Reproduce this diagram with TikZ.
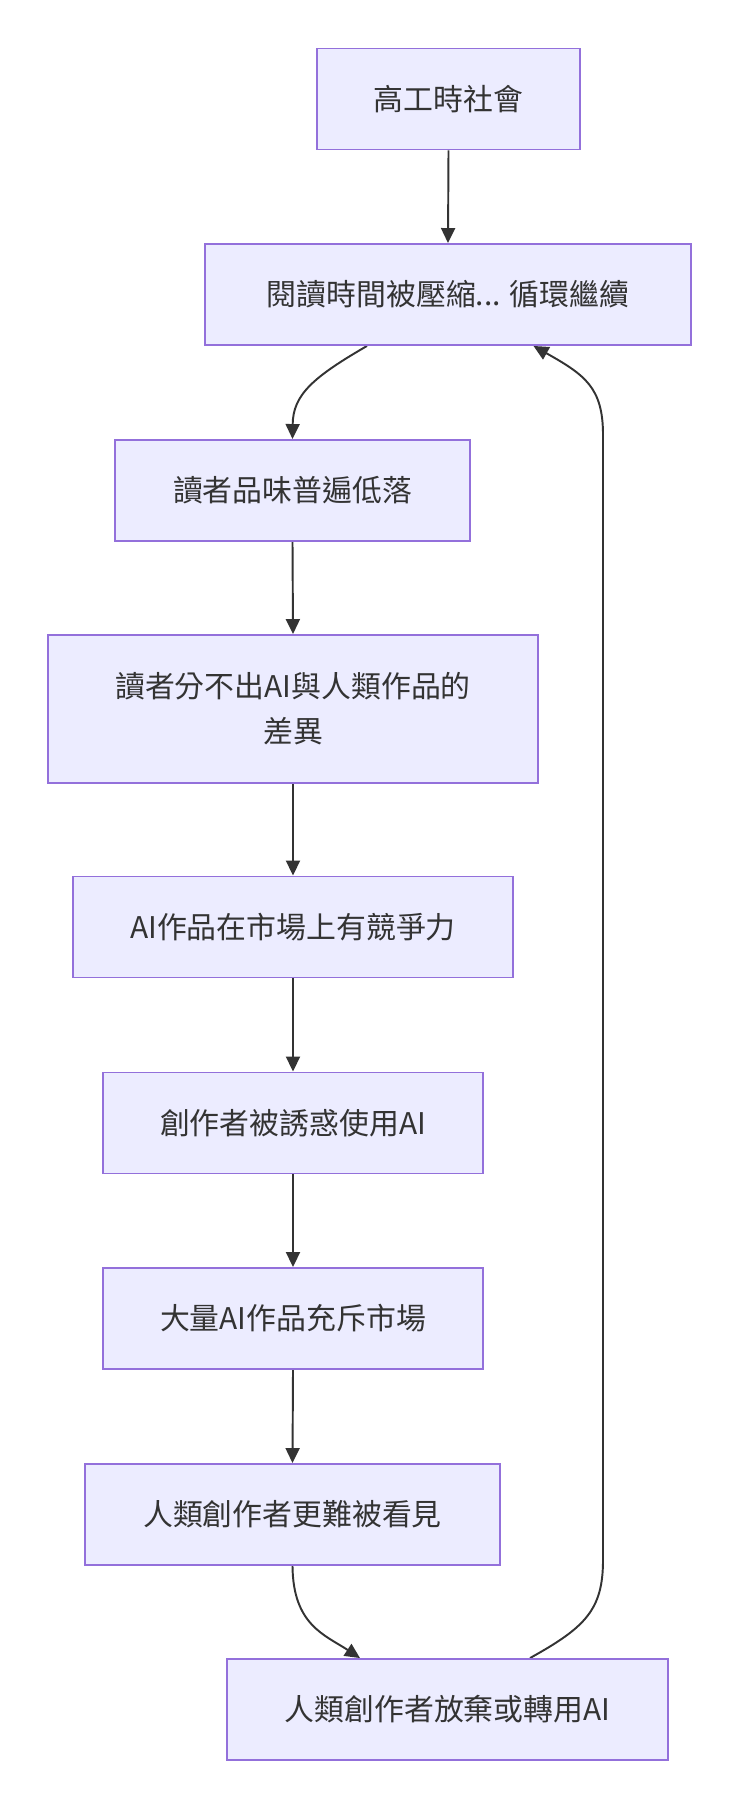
\documentclass[tikz,border=0pt]{standalone}
\usepackage{fontspec}
\setmainfont{Noto Sans CJK TC}
\usetikzlibrary{arrows.meta}
\usetikzlibrary{calc}
\pgfdeclarelayer{edgelayer}
\pgfdeclarelayer{nodelayer}
\pgfsetlayers{edgelayer,nodelayer,main}
\definecolor{boxfill}{HTML}{ECECFF}
\definecolor{boxline}{HTML}{9370DB}
\definecolor{edgeline}{HTML}{333333}
\tikzstyle{none}=[inner sep=0pt]
\tikzstyle{box}=[rectangle, fill=boxfill, draw=boxline, line width=1.1pt, minimum height=2.02cm, inner sep=0pt, align=center, text=edgeline, font=\fontsize{17}{25.6}\selectfont]
\tikzstyle{flow}=[draw=edgeline, line width=1.1pt, -{Triangle[length=0.3cm, width=0.28cm]}]

\begin{document}
\begin{tikzpicture}
	\useasboundingbox (0, 0) rectangle (14.8, -36.18);
	\begin{pgfonlayer}{nodelayer}
		\node [style=box, minimum width=5.26cm] (0) at (8.97, -1.98) {高工時社會};
		\node [style=box, minimum width=9.72cm] (1) at (8.96, -5.89) {閱讀時間被壓縮... 循環繼續};
		\node [style=box, minimum width=7.1cm] (2) at (5.85, -9.81) {讀者品味普遍低落};
		\node [style=box, minimum width=9.8cm, minimum height=2.96cm] (3) at (5.86, -14.18) {讀者分不出AI與人類作品的\\差異};
		\node [style=box, minimum width=8.8cm] (4) at (5.86, -18.54) {AI作品在市場上有競爭力};
		\node [style=box, minimum width=7.6cm] (5) at (5.86, -22.46) {創作者被誘惑使用AI};
		\node [style=box, minimum width=7.6cm] (6) at (5.86, -26.37) {大量AI作品充斥市場};
		\node [style=box, minimum width=8.3cm] (7) at (5.85, -30.29) {人類創作者更難被看見};
		\node [style=box, minimum width=8.82cm] (8) at (8.95, -34.19) {人類創作者放棄或轉用AI};
	\end{pgfonlayer}
	\begin{pgfonlayer}{edgelayer}
		\fill [white] (0, 0) rectangle (14.8, -36.18);
		\draw [style=flow] (0.south) -- (1.north);
		\draw [style=flow] ($(1.south)+(-1.62, 0)$) .. controls (6.25, -7.55) and (5.86, -7.9) .. (2.north);
		\draw [style=flow] (2.south) -- (3.north);
		\draw [style=flow] (3.south) -- (4.north);
		\draw [style=flow] (4.south) -- (5.north);
		\draw [style=flow] (5.south) -- (6.north);
		\draw [style=flow] (6.south) -- (7.north);
		\draw [style=flow] (7.south) .. controls (5.86, -32.5) and (6.5, -32.7) .. ($(8.north)+(-1.75, 0)$);
		\draw [style=flow] ($(8.north)+(1.65, 0)$) .. controls (11.7, -32.55) and (12.06, -32.2) .. (12.06, -31.2) -- (12.06, -8.7) .. controls (12.06, -7.75) and (11.7, -7.5) .. ($(1.south)+(1.71, 0)$);
	\end{pgfonlayer}
\end{tikzpicture}
\end{document}
